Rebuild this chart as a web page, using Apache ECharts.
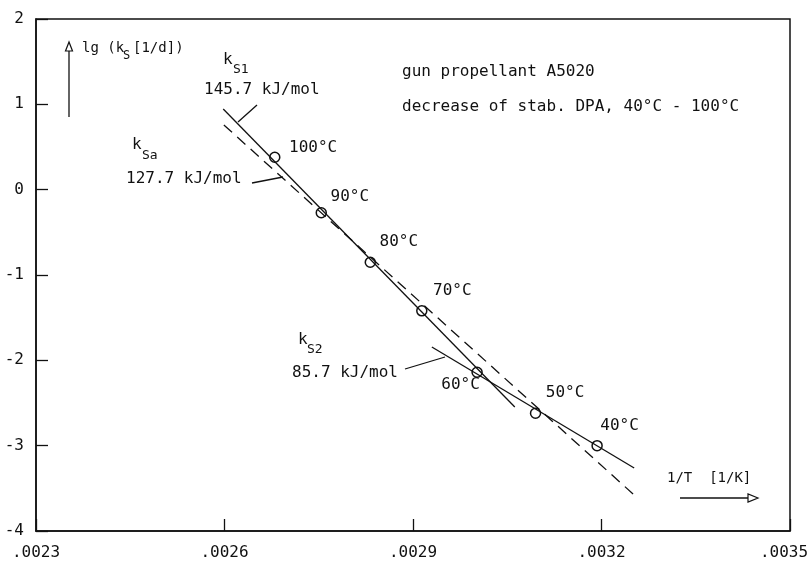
<!DOCTYPE html>
<html>
<head>
<meta charset="utf-8">
<title>lg ks vs 1/T</title>
<script src="https://cdn.jsdelivr.net/npm/echarts@6/dist/echarts.min.js"></script>
<style>
  html, body { margin: 0; padding: 0; background: #fff; }
  #chart { width: 811px; height: 566px; }
</style>
</head>
<body>
<div id="chart"></div>
<script>
// measured points (1/T, lg ks)
const tempLabels = ["100°C", "90°C", "80°C", "70°C", "60°C", "50°C", "40°C"];
const invT = [0.00268, 0.002754, 0.002832, 0.002914, 0.003002, 0.003095, 0.003193];
const lgKs = [0.38, -0.27, -0.85, -1.42, -2.14, -2.62, -3.0];

// fitted lines, end points
const ks1X = [0.002598, 0.003062];
const ks1Y = [0.945, -2.547];
const ks2X = [0.00293, 0.003252];
const ks2Y = [-1.844, -3.262];
const ksaX = [0.002599, 0.003252];
const ksaY = [0.758, -3.578];

// tick labels
const xTickLabels = [".0023", ".0026", ".0029", ".0032", ".0035"];
const yTickLabels = ["-4", "-3", "-2", "-1", "0", "1", "2"];

// label offsets of the temperature texts (px, from the circle centre)
const labelOffsets = [[15, -9], [10, -15], [10, -20], [12, -19], [-35, 13], [11, -20], [4, -19]];

const FONT = "DejaVu Sans Mono";
const INK = "#111";

function pairs(xs, ys) {
  return xs.map(function (x, i) { return [x, ys[i]]; });
}

// left aligned text, y is the middle of the line
function text(x, y, str, size) {
  return {
    type: "text", x: x, y: y, z: 10,
    style: {
      text: str, fill: INK, verticalAlign: "middle", align: "left",
      font: size + "px '" + FONT + "'"
    }
  };
}

function seg(x1, y1, x2, y2) {
  return {
    type: "line", z: 10,
    shape: { x1: x1, y1: y1, x2: x2, y2: y2 },
    style: { stroke: INK, lineWidth: 1.3 }
  };
}

let myChart = echarts.init(document.getElementById("chart"));

let options = {
  backgroundColor: "#fff",
  animation: false,
  grid: {
    left: 36, top: 19, right: 21, bottom: 35,
    outerBoundsMode: "none",
    containLabel: false,
    show: true, borderColor: INK, borderWidth: 1.5
  },
  xAxis: {
    type: "value",
    min: 0.0023, max: 0.0035, interval: 0.0003,
    axisLine: { show: true, onZero: false, lineStyle: { color: INK, width: 1.5 } },
    axisTick: { show: true, inside: true, length: 12, lineStyle: { color: INK, width: 1.3 } },
    splitLine: { show: false },
    axisLabel: {
      color: INK, fontFamily: FONT, fontSize: 16, margin: 14,
      formatter: function (v, i) {
        // last label sits a little left of its tick, as in the original
        return i === xTickLabels.length - 1 ? "{r|" + xTickLabels[i] + "}" : xTickLabels[i];
      },
      rich: {
        r: { color: INK, fontFamily: FONT, fontSize: 16, padding: [0, 12, 0, 0] }
      }
    }
  },
  yAxis: {
    type: "value",
    min: -4, max: 2, interval: 1,
    axisLine: { show: true, onZero: false, lineStyle: { color: INK, width: 1.5 } },
    axisTick: { show: true, inside: true, length: 12, lineStyle: { color: INK, width: 1.3 } },
    splitLine: { show: false },
    axisLabel: {
      color: INK, fontFamily: FONT, fontSize: 16, margin: 12,
      formatter: function (v, i) { return yTickLabels[i]; }
    }
  },
  series: [
    {
      name: "ks1", type: "line", data: pairs(ks1X, ks1Y),
      symbol: "none", lineStyle: { color: INK, width: 1.3 }
    },
    {
      name: "ks2", type: "line", data: pairs(ks2X, ks2Y),
      symbol: "none", lineStyle: { color: INK, width: 1.3 }
    },
    {
      name: "ksa", type: "line", data: pairs(ksaX, ksaY),
      symbol: "none", lineStyle: { color: INK, width: 1.3, type: [11, 7] }
    },
    {
      name: "points", type: "scatter", z: 5,
      symbol: "circle", symbolSize: 10,
      itemStyle: {
        color: "rgba(255,255,255,0)", borderColor: INK, borderWidth: 1.5, opacity: 1
      },
      data: invT.map(function (x, i) {
        return {
          value: [x, lgKs[i]],
          label: {
            show: true, position: [5, 5], align: "left", verticalAlign: "middle",
            distance: 0,
            offset: labelOffsets[i], formatter: tempLabels[i],
            color: INK, fontFamily: FONT, fontSize: 16
          }
        };
      })
    }
  ],
  graphic: [
    // y axis title with arrow
    seg(69, 117, 69, 50),
    {
      type: "polygon", z: 10,
      shape: { points: [[69, 42], [65.5, 51], [72.5, 51]] },
      style: { fill: "#fff", stroke: INK, lineWidth: 1.2 }
    },
    text(82, 48, "lg (k", 14),
    text(123, 56, "S", 12),
    text(133, 48, "[1/d])", 14),

    // x axis title with arrow
    text(667, 478, "1/T  [1/K]", 14),
    seg(680, 498, 749, 498),
    {
      type: "polygon", z: 10,
      shape: { points: [[758, 498], [748, 494], [748, 502]] },
      style: { fill: "#fff", stroke: INK, lineWidth: 1.2 }
    },

    // header
    text(402, 72, "gun propellant A5020", 16),
    text(402, 107, "decrease of stab. DPA, 40°C - 100°C", 16),

    // ks1
    text(223, 60, "k", 16),
    text(233, 70, "S1", 13),
    text(204, 90, "145.7 kJ/mol", 16),
    seg(257, 105, 238, 122),

    // ksa
    text(132, 145, "k", 16),
    text(142, 156, "Sa", 13),
    text(126, 179, "127.7 kJ/mol", 16),
    seg(252, 183, 283, 177),

    // ks2
    text(298, 340, "k", 16),
    text(307, 350, "S2", 13),
    text(292, 373, "85.7 kJ/mol", 16),
    seg(405, 369, 445, 357)
  ]
};

myChart.setOption(options);
window.addEventListener("resize", function () {
  myChart.resize();
});
</script>
</body>
</html>
